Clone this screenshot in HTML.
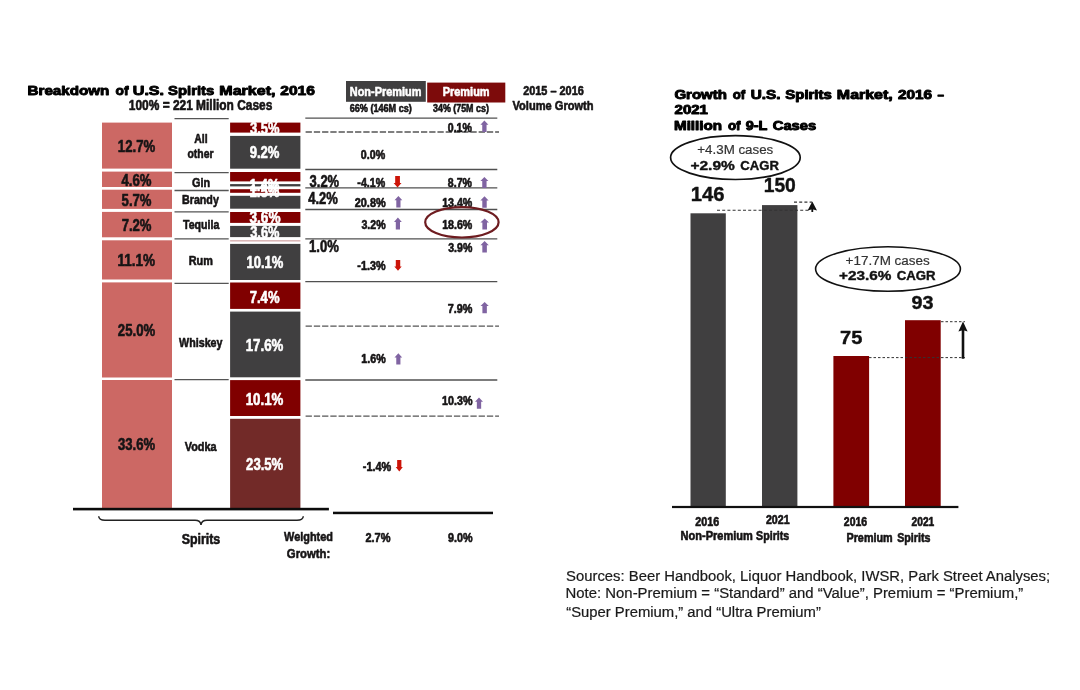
<!DOCTYPE html>
<html lang="en"><head><meta charset="utf-8"><title>U.S. Spirits Market</title>
<style>
html,body{margin:0;padding:0;background:#fff;}
body{width:1080px;height:690px;overflow:hidden;}
svg{display:block;filter:blur(0.45px);}
text{font-family:"Liberation Sans",Arial,Helvetica,sans-serif;white-space:pre;}
</style></head><body>
<svg width="1080" height="690" viewBox="0 0 1080 690">
<rect width="1080" height="690" fill="#fff"/>
<text y="94.85" font-size="12.52" font-weight="bold" fill="#000" stroke="#000" stroke-width="0.9" stroke-linejoin="round"><tspan x="27.54" textLength="81.82" lengthAdjust="spacingAndGlyphs">Breakdown</tspan> <tspan x="115.5" textLength="12.96" lengthAdjust="spacingAndGlyphs">of</tspan> <tspan x="132.79" textLength="31.26" lengthAdjust="spacingAndGlyphs">U.S.</tspan> <tspan x="168.11" textLength="46.11" lengthAdjust="spacingAndGlyphs">Spirits</tspan> <tspan x="219.38" textLength="56.06" lengthAdjust="spacingAndGlyphs">Market,</tspan> <tspan x="280.23" textLength="34.66" lengthAdjust="spacingAndGlyphs">2016</tspan></text>
<text x="128.85" y="110.0" font-size="13.81" font-weight="bold" fill="#161415" textLength="143.44" lengthAdjust="spacingAndGlyphs" stroke="#161415" stroke-width="0.6" stroke-linejoin="round">100% = 221 Million Cases</text>
<rect x="102" y="122.6" width="70" height="46.0" fill="#cc6864"/>
<rect x="102" y="171.6" width="70" height="15.4" fill="#cc6864"/>
<rect x="102" y="189.7" width="70" height="19.2" fill="#cc6864"/>
<rect x="102" y="211.9" width="70" height="25.4" fill="#cc6864"/>
<rect x="102" y="240.3" width="70" height="39.2" fill="#cc6864"/>
<rect x="102" y="282.4" width="70" height="95.1" fill="#cc6864"/>
<rect x="102" y="380" width="70" height="128" fill="#cc6864"/>
<rect x="230.1" y="122.6" width="70.3" height="10.0" fill="#800000"/>
<rect x="230.1" y="135.9" width="70.3" height="32.8" fill="#403f40"/>
<rect x="230.1" y="172" width="70.3" height="9.4" fill="#800000"/>
<rect x="230.1" y="184.1" width="70.3" height="2.3" fill="#403f40"/>
<rect x="230.1" y="189.2" width="70.3" height="3.6" fill="#800000"/>
<rect x="230.1" y="195.8" width="70.3" height="12.9" fill="#403f40"/>
<rect x="230.1" y="212" width="70.3" height="10.9" fill="#800000"/>
<rect x="230.1" y="225.9" width="70.3" height="11.2" fill="#403f40"/>
<rect x="230.1" y="240.5" width="70.3" height="0.8" fill="#b87070"/>
<rect x="230.1" y="243.9" width="70.3" height="36.1" fill="#403f40"/>
<rect x="230.1" y="282.5" width="70.3" height="26.4" fill="#800000"/>
<rect x="230.1" y="311.6" width="70.3" height="65.7" fill="#403f40"/>
<rect x="230.1" y="380.1" width="70.3" height="35.9" fill="#800000"/>
<rect x="230.1" y="418.8" width="70.3" height="89.2" fill="#722a28"/>
<line x1="174.5" y1="118.7" x2="228.7" y2="118.7" stroke="#555" stroke-width="1.3"/>
<line x1="174.5" y1="172.7" x2="228.7" y2="172.7" stroke="#555" stroke-width="1.3"/>
<line x1="174.5" y1="190.5" x2="228.7" y2="190.5" stroke="#555" stroke-width="1.3"/>
<line x1="174.5" y1="211.9" x2="228.7" y2="211.9" stroke="#555" stroke-width="1.3"/>
<line x1="174.5" y1="238.8" x2="228.7" y2="238.8" stroke="#555" stroke-width="1.3"/>
<line x1="174.5" y1="283.4" x2="228.7" y2="283.4" stroke="#555" stroke-width="1.3"/>
<line x1="174.5" y1="379.6" x2="228.7" y2="379.6" stroke="#555" stroke-width="1.3"/>
<line x1="305.3" y1="118.1" x2="497.3" y2="118.1" stroke="#505050" stroke-width="1.3"/>
<line x1="305.3" y1="169.5" x2="497.3" y2="169.5" stroke="#505050" stroke-width="1.3"/>
<line x1="305.3" y1="187.9" x2="497.3" y2="187.9" stroke="#505050" stroke-width="1.3"/>
<line x1="305.3" y1="209.5" x2="497.3" y2="209.5" stroke="#505050" stroke-width="1.3"/>
<line x1="305.3" y1="238.8" x2="497.3" y2="238.8" stroke="#505050" stroke-width="1.3"/>
<line x1="305.3" y1="281.6" x2="497.3" y2="281.6" stroke="#505050" stroke-width="1.3"/>
<line x1="305.3" y1="380" x2="497.3" y2="380" stroke="#505050" stroke-width="1.3"/>
<line x1="305.6" y1="132" x2="499" y2="132" stroke="#555" stroke-width="1.4" stroke-dasharray="6.3 1.94"/>
<line x1="305.6" y1="326.1" x2="499" y2="326.1" stroke="#555" stroke-width="1.4" stroke-dasharray="6.3 1.94"/>
<line x1="305.6" y1="416.1" x2="499" y2="416.1" stroke="#555" stroke-width="1.4" stroke-dasharray="6.3 1.94"/>
<rect x="73" y="507.8" width="255.9" height="2.6" fill="#0c0c0c"/>
<rect x="333" y="511.7" width="160" height="2.5" fill="#0c0c0c"/>
<path d="M98.7 516.2 Q99 520.2 105 520.2 L195 520.2 Q200.5 520.2 201 524.8 Q201.5 520.2 207 520.2 L297 520.2 Q303 520.2 303.3 516.2" fill="none" stroke="#222" stroke-width="1.5"/>
<text x="117.87" y="151.7" font-size="15.68" font-weight="bold" fill="#161415" textLength="37.37" lengthAdjust="spacingAndGlyphs" stroke="#161415" stroke-width="0.6" stroke-linejoin="round">12.7%</text>
<text x="121.48" y="185.8" font-size="15.68" font-weight="bold" fill="#161415" textLength="30.06" lengthAdjust="spacingAndGlyphs" stroke="#161415" stroke-width="0.6" stroke-linejoin="round">4.6%</text>
<text x="121.61" y="205.6" font-size="15.68" font-weight="bold" fill="#161415" textLength="29.93" lengthAdjust="spacingAndGlyphs" stroke="#161415" stroke-width="0.6" stroke-linejoin="round">5.7%</text>
<text x="121.63" y="230.6" font-size="15.68" font-weight="bold" fill="#161415" textLength="29.91" lengthAdjust="spacingAndGlyphs" stroke="#161415" stroke-width="0.6" stroke-linejoin="round">7.2%</text>
<text x="117.44" y="265.7" font-size="15.68" font-weight="bold" fill="#161415" textLength="37.72" lengthAdjust="spacingAndGlyphs" stroke="#161415" stroke-width="0.6" stroke-linejoin="round">11.1%</text>
<text x="117.86" y="335.7" font-size="15.68" font-weight="bold" fill="#161415" textLength="37.27" lengthAdjust="spacingAndGlyphs" stroke="#161415" stroke-width="0.6" stroke-linejoin="round">25.0%</text>
<text x="118.0" y="450.4" font-size="15.68" font-weight="bold" fill="#161415" textLength="37.04" lengthAdjust="spacingAndGlyphs" stroke="#161415" stroke-width="0.6" stroke-linejoin="round">33.6%</text>
<text x="194.32" y="142.6" font-size="12.81" font-weight="bold" fill="#161415" textLength="13.32" lengthAdjust="spacingAndGlyphs" stroke="#161415" stroke-width="0.6" stroke-linejoin="round">All</text>
<text x="187.48" y="158.0" font-size="12.81" font-weight="bold" fill="#161415" textLength="26.09" lengthAdjust="spacingAndGlyphs" stroke="#161415" stroke-width="0.6" stroke-linejoin="round">other</text>
<text x="191.97" y="186.6" font-size="12.81" font-weight="bold" fill="#161415" textLength="18.08" lengthAdjust="spacingAndGlyphs" stroke="#161415" stroke-width="0.6" stroke-linejoin="round">Gin</text>
<text x="181.99" y="204.4" font-size="12.81" font-weight="bold" fill="#161415" textLength="36.87" lengthAdjust="spacingAndGlyphs" stroke="#161415" stroke-width="0.6" stroke-linejoin="round">Brandy</text>
<text x="182.99" y="228.7" font-size="12.81" font-weight="bold" fill="#161415" textLength="36.33" lengthAdjust="spacingAndGlyphs" stroke="#161415" stroke-width="0.6" stroke-linejoin="round">Tequila</text>
<text x="188.68" y="264.8" font-size="12.81" font-weight="bold" fill="#161415" textLength="24.1" lengthAdjust="spacingAndGlyphs" stroke="#161415" stroke-width="0.6" stroke-linejoin="round">Rum</text>
<text x="179.1" y="346.6" font-size="12.81" font-weight="bold" fill="#161415" textLength="43.38" lengthAdjust="spacingAndGlyphs" stroke="#161415" stroke-width="0.6" stroke-linejoin="round">Whiskey</text>
<text x="184.73" y="451.1" font-size="12.81" font-weight="bold" fill="#161415" textLength="31.9" lengthAdjust="spacingAndGlyphs" stroke="#161415" stroke-width="0.6" stroke-linejoin="round">Vodka</text>
<text x="250.0" y="133.9" font-size="15.68" font-weight="bold" fill="#fff" textLength="29.54" lengthAdjust="spacingAndGlyphs" stroke="#fff" stroke-width="0.6" stroke-linejoin="round">3.5%</text>
<text x="249.66" y="158.4" font-size="15.68" font-weight="bold" fill="#fff" textLength="29.88" lengthAdjust="spacingAndGlyphs" stroke="#fff" stroke-width="0.6" stroke-linejoin="round">9.2%</text>
<text x="249.46" y="190.9" font-size="15.68" font-weight="bold" fill="#fff" textLength="30.08" lengthAdjust="spacingAndGlyphs" stroke="#fff" stroke-width="0.6" stroke-linejoin="round">1.4%</text>
<text x="249.46" y="196.9" font-size="15.68" font-weight="bold" fill="#fff" textLength="30.08" lengthAdjust="spacingAndGlyphs" stroke="#fff" stroke-width="0.6" stroke-linejoin="round">1.5%</text>
<text x="249.48" y="222.7" font-size="15.68" font-weight="bold" fill="#fff" textLength="31.07" lengthAdjust="spacingAndGlyphs" stroke="#fff" stroke-width="0.6" stroke-linejoin="round">3.6%</text>
<text x="250.2" y="238.0" font-size="15.68" font-weight="bold" fill="#fff" textLength="29.33" lengthAdjust="spacingAndGlyphs" stroke="#fff" stroke-width="0.6" stroke-linejoin="round">3.6%</text>
<text x="246.48" y="268.3" font-size="15.68" font-weight="bold" fill="#fff" textLength="36.85" lengthAdjust="spacingAndGlyphs" stroke="#fff" stroke-width="0.6" stroke-linejoin="round">10.1%</text>
<text x="249.73" y="302.6" font-size="15.68" font-weight="bold" fill="#fff" textLength="29.81" lengthAdjust="spacingAndGlyphs" stroke="#fff" stroke-width="0.6" stroke-linejoin="round">7.4%</text>
<text x="245.71" y="351.3" font-size="15.68" font-weight="bold" fill="#fff" textLength="37.58" lengthAdjust="spacingAndGlyphs" stroke="#fff" stroke-width="0.6" stroke-linejoin="round">17.6%</text>
<text x="245.71" y="404.6" font-size="15.68" font-weight="bold" fill="#fff" textLength="37.58" lengthAdjust="spacingAndGlyphs" stroke="#fff" stroke-width="0.6" stroke-linejoin="round">10.1%</text>
<text x="246.11" y="469.6" font-size="15.68" font-weight="bold" fill="#fff" textLength="37.17" lengthAdjust="spacingAndGlyphs" stroke="#fff" stroke-width="0.6" stroke-linejoin="round">23.5%</text>
<rect x="346" y="81" width="79.8" height="20.8" fill="#403f40"/>
<rect x="427.2" y="82.6" width="78.1" height="19.9" fill="#7d0b0b"/>
<text x="349.77" y="95.6" font-size="12.95" font-weight="bold" fill="#fff" textLength="71.61" lengthAdjust="spacingAndGlyphs" stroke="#fff" stroke-width="0.6" stroke-linejoin="round">Non-Premium</text>
<text x="442.67" y="96.1" font-size="12.95" font-weight="bold" fill="#fff" textLength="46.92" lengthAdjust="spacingAndGlyphs" stroke="#fff" stroke-width="0.6" stroke-linejoin="round">Premium</text>
<text x="349.77" y="112.3" font-size="10.5" font-weight="bold" fill="#161415" textLength="61.99" lengthAdjust="spacingAndGlyphs" stroke="#161415" stroke-width="0.6" stroke-linejoin="round">66% (146M cs)</text>
<text x="432.99" y="112.3" font-size="10.5" font-weight="bold" fill="#161415" textLength="55.86" lengthAdjust="spacingAndGlyphs" stroke="#161415" stroke-width="0.6" stroke-linejoin="round">34% (75M cs)</text>
<text x="523.14" y="94.7" font-size="12.52" font-weight="bold" fill="#161415" textLength="60.67" lengthAdjust="spacingAndGlyphs" stroke="#161415" stroke-width="0.6" stroke-linejoin="round">2015 – 2016</text>
<text x="512.53" y="109.9" font-size="12.52" font-weight="bold" fill="#161415" textLength="81.06" lengthAdjust="spacingAndGlyphs" stroke="#161415" stroke-width="0.6" stroke-linejoin="round">Volume Growth</text>
<text x="309.6" y="186.5" font-size="15.68" font-weight="bold" fill="#161415" textLength="29.54" lengthAdjust="spacingAndGlyphs" stroke="#161415" stroke-width="0.6" stroke-linejoin="round">3.2%</text>
<text x="308.28" y="204.3" font-size="15.68" font-weight="bold" fill="#161415" textLength="29.65" lengthAdjust="spacingAndGlyphs" stroke="#161415" stroke-width="0.6" stroke-linejoin="round">4.2%</text>
<text x="308.97" y="252.3" font-size="15.68" font-weight="bold" fill="#161415" textLength="29.82" lengthAdjust="spacingAndGlyphs" stroke="#161415" stroke-width="0.6" stroke-linejoin="round">1.0%</text>
<text x="447.78" y="131.8" font-size="12.23" font-weight="bold" fill="#161415" textLength="24.1" lengthAdjust="spacingAndGlyphs" stroke="#161415" stroke-width="0.6" stroke-linejoin="round">0.1%</text>
<path d="M484.4 120.6 L488.4 124.818 L486.56 124.818 L486.56 132 L482.23999999999995 132 L482.23999999999995 124.818 L480.4 124.818 Z" fill="#8064a2"/>
<text x="360.87" y="159.2" font-size="12.23" font-weight="bold" fill="#161415" textLength="24.3" lengthAdjust="spacingAndGlyphs" stroke="#161415" stroke-width="0.6" stroke-linejoin="round">0.0%</text>
<text x="357.37" y="187.0" font-size="12.23" font-weight="bold" fill="#161415" textLength="27.8" lengthAdjust="spacingAndGlyphs" stroke="#161415" stroke-width="0.6" stroke-linejoin="round">-4.1%</text>
<path d="M397.55 187.6 L401.5 182.96 L399.92 182.96 L399.92 176 L395.18 176 L395.18 182.96 L393.6 182.96 Z" fill="#cc1408"/>
<text x="447.85" y="187.0" font-size="12.23" font-weight="bold" fill="#161415" textLength="24.02" lengthAdjust="spacingAndGlyphs" stroke="#161415" stroke-width="0.6" stroke-linejoin="round">8.7%</text>
<path d="M484.4 176.9 L488.4 180.97 L486.56 180.97 L486.56 187.9 L482.23999999999995 187.9 L482.23999999999995 180.97 L480.4 180.97 Z" fill="#8064a2"/>
<text x="354.74" y="207.4" font-size="12.23" font-weight="bold" fill="#161415" textLength="30.94" lengthAdjust="spacingAndGlyphs" stroke="#161415" stroke-width="0.6" stroke-linejoin="round">20.8%</text>
<path d="M398.4 196 L402.3 200.292 L400.506 200.292 L400.506 207.6 L396.294 207.6 L396.294 200.292 L394.5 200.292 Z" fill="#8064a2"/>
<text x="442.13" y="207.2" font-size="12.23" font-weight="bold" fill="#161415" textLength="30.14" lengthAdjust="spacingAndGlyphs" stroke="#161415" stroke-width="0.6" stroke-linejoin="round">13.4%</text>
<path d="M484.5 196.3 L488.6 200.518 L486.714 200.518 L486.714 207.7 L482.286 207.7 L482.286 200.518 L480.4 200.518 Z" fill="#8064a2"/>
<text x="361.45" y="229.1" font-size="12.23" font-weight="bold" fill="#161415" textLength="24.22" lengthAdjust="spacingAndGlyphs" stroke="#161415" stroke-width="0.6" stroke-linejoin="round">3.2%</text>
<path d="M397.9 217.6 L401.8 221.966 L400.006 221.966 L400.006 229.4 L395.794 229.4 L395.794 221.966 L394 221.966 Z" fill="#8064a2"/>
<text x="442.13" y="229.3" font-size="12.23" font-weight="bold" fill="#161415" textLength="30.14" lengthAdjust="spacingAndGlyphs" stroke="#161415" stroke-width="0.6" stroke-linejoin="round">18.6%</text>
<path d="M484.7 218.4 L489 222.544 L487.022 222.544 L487.022 229.6 L482.378 229.6 L482.378 222.544 L480.4 222.544 Z" fill="#8064a2"/>
<ellipse cx="461.9" cy="222.3" rx="36.7" ry="15.2" fill="none" stroke="#6e1c20" stroke-width="2.2"/>
<text x="448.25" y="252.1" font-size="12.23" font-weight="bold" fill="#161415" textLength="24.02" lengthAdjust="spacingAndGlyphs" stroke="#161415" stroke-width="0.6" stroke-linejoin="round">3.9%</text>
<path d="M484.6 241 L488.8 245.292 L486.86800000000005 245.292 L486.86800000000005 252.6 L482.332 252.6 L482.332 245.292 L480.4 245.292 Z" fill="#8064a2"/>
<text x="357.37" y="270.0" font-size="12.23" font-weight="bold" fill="#161415" textLength="28.11" lengthAdjust="spacingAndGlyphs" stroke="#161415" stroke-width="0.6" stroke-linejoin="round">-1.3%</text>
<path d="M398.0 270.8 L401.7 266.48 L400.21999999999997 266.48 L400.21999999999997 260 L395.78000000000003 260 L395.78000000000003 266.48 L394.3 266.48 Z" fill="#cc1408"/>
<text x="447.83" y="313.0" font-size="12.23" font-weight="bold" fill="#161415" textLength="24.65" lengthAdjust="spacingAndGlyphs" stroke="#161415" stroke-width="0.6" stroke-linejoin="round">7.9%</text>
<path d="M484.625 301.9 L488.75 306.118 L486.8525 306.118 L486.8525 313.3 L482.3975 313.3 L482.3975 306.118 L480.5 306.118 Z" fill="#8064a2"/>
<text x="361.37" y="363.0" font-size="12.23" font-weight="bold" fill="#161415" textLength="24.35" lengthAdjust="spacingAndGlyphs" stroke="#161415" stroke-width="0.6" stroke-linejoin="round">1.6%</text>
<path d="M398.35 353.25 L402.2 357.4125 L400.42900000000003 357.4125 L400.42900000000003 364.5 L396.271 364.5 L396.271 357.4125 L394.5 357.4125 Z" fill="#8064a2"/>
<text x="442.12" y="405.0" font-size="12.23" font-weight="bold" fill="#161415" textLength="30.35" lengthAdjust="spacingAndGlyphs" stroke="#161415" stroke-width="0.6" stroke-linejoin="round">10.3%</text>
<path d="M479.0 397.5 L483 401.6625 L481.16 401.6625 L481.16 408.75 L476.84 408.75 L476.84 401.6625 L475 401.6625 Z" fill="#8064a2"/>
<text x="362.87" y="471.2" font-size="12.23" font-weight="bold" fill="#161415" textLength="28.36" lengthAdjust="spacingAndGlyphs" stroke="#161415" stroke-width="0.6" stroke-linejoin="round">-1.4%</text>
<path d="M399.275 471.5 L402.8 466.9 L401.39 466.9 L401.39 460 L397.15999999999997 460 L397.15999999999997 466.9 L395.75 466.9 Z" fill="#cc1408"/>
<text x="181.63" y="544.0" font-size="14.1" font-weight="bold" fill="#161415" textLength="38.55" lengthAdjust="spacingAndGlyphs" stroke="#161415" stroke-width="0.6" stroke-linejoin="round">Spirits</text>
<text x="284.05" y="540.8" font-size="13.67" font-weight="bold" fill="#161415" textLength="48.89" lengthAdjust="spacingAndGlyphs" stroke="#161415" stroke-width="0.6" stroke-linejoin="round">Weighted</text>
<text x="286.85" y="557.9" font-size="13.53" font-weight="bold" fill="#161415" textLength="43.44" lengthAdjust="spacingAndGlyphs" stroke="#161415" stroke-width="0.6" stroke-linejoin="round">Growth:</text>
<text x="365.43" y="542.0" font-size="12.81" font-weight="bold" fill="#161415" textLength="25.05" lengthAdjust="spacingAndGlyphs" stroke="#161415" stroke-width="0.6" stroke-linejoin="round">2.7%</text>
<text x="447.94" y="542.0" font-size="12.81" font-weight="bold" fill="#161415" textLength="24.54" lengthAdjust="spacingAndGlyphs" stroke="#161415" stroke-width="0.6" stroke-linejoin="round">9.0%</text>
<text y="98.55" font-size="11.94" font-weight="bold" fill="#000" stroke="#000" stroke-width="0.9" stroke-linejoin="round"><tspan x="674.45" textLength="52.49" lengthAdjust="spacingAndGlyphs">Growth</tspan> <tspan x="732.82" textLength="12.43" lengthAdjust="spacingAndGlyphs">of</tspan> <tspan x="750.74" textLength="29.65" lengthAdjust="spacingAndGlyphs">U.S.</tspan> <tspan x="785.3" textLength="46.52" lengthAdjust="spacingAndGlyphs">Spirits</tspan> <tspan x="836.89" textLength="55.75" lengthAdjust="spacingAndGlyphs">Market,</tspan> <tspan x="897.94" textLength="34.14" lengthAdjust="spacingAndGlyphs">2016</tspan> <tspan x="937.6" textLength="6.49" lengthAdjust="spacingAndGlyphs">–</tspan></text>
<text x="674.55" y="114.35" font-size="11.94" font-weight="bold" fill="#000" textLength="33.42" lengthAdjust="spacingAndGlyphs" stroke="#000" stroke-width="0.9" stroke-linejoin="round">2021</text>
<text y="130.25" font-size="11.94" font-weight="bold" fill="#000" stroke="#000" stroke-width="0.9" stroke-linejoin="round"><tspan x="674.04" textLength="48.01" lengthAdjust="spacingAndGlyphs">Million</tspan> <tspan x="727.92" textLength="12.54" lengthAdjust="spacingAndGlyphs">of</tspan> <tspan x="745.67" textLength="21.51" lengthAdjust="spacingAndGlyphs">9-L</tspan> <tspan x="772.76" textLength="43.48" lengthAdjust="spacingAndGlyphs">Cases</tspan></text>
<ellipse cx="735.4" cy="157.6" rx="64.8" ry="21.9" fill="#fff" stroke="#111" stroke-width="1.7"/>
<text x="697.33" y="153.6" font-size="13.09" font-weight="normal" fill="#333" textLength="75.96" lengthAdjust="spacingAndGlyphs" stroke="#333" stroke-width="0.2" stroke-linejoin="round">+4.3M cases</text>
<text y="169.8" font-size="13.09" font-weight="bold" fill="#111" stroke="#111" stroke-width="0.4" stroke-linejoin="round"><tspan x="690.43" textLength="44.38" lengthAdjust="spacingAndGlyphs">+2.9%</tspan> <tspan x="740.28" textLength="38.6" lengthAdjust="spacingAndGlyphs">CAGR</tspan></text>
<rect x="690.5" y="213.3" width="35.3" height="294.7" fill="#403f40"/>
<rect x="762" y="205.1" width="35.4" height="302.9" fill="#403f40"/>
<rect x="833.4" y="356" width="35.7" height="152" fill="#800000"/>
<rect x="905" y="320.2" width="35.7" height="187.8" fill="#800000"/>
<text x="690.82" y="201.4" font-size="19.57" font-weight="bold" fill="#111" textLength="33.79" lengthAdjust="spacingAndGlyphs" stroke="#111" stroke-width="0.4" stroke-linejoin="round">146</text>
<text x="763.68" y="192.3" font-size="19.57" font-weight="bold" fill="#111" textLength="32.16" lengthAdjust="spacingAndGlyphs" stroke="#111" stroke-width="0.4" stroke-linejoin="round">150</text>
<text x="840.03" y="343.8" font-size="18.85" font-weight="bold" fill="#111" textLength="22.35" lengthAdjust="spacingAndGlyphs" stroke="#111" stroke-width="0.4" stroke-linejoin="round">75</text>
<text x="911.54" y="308.5" font-size="18.85" font-weight="bold" fill="#111" textLength="21.96" lengthAdjust="spacingAndGlyphs" stroke="#111" stroke-width="0.4" stroke-linejoin="round">93</text>
<line x1="717" y1="210.3" x2="809" y2="210.3" stroke="#333" stroke-width="1.1" stroke-dasharray="3 2.2"/>
<line x1="794" y1="202.1" x2="812" y2="202.1" stroke="#333" stroke-width="1.1" stroke-dasharray="3 2.2"/>
<path d="M812.3 201.6 L817 210.6 L813.2 209.6 L813.2 212 L811.4 212 L811.4 209.6 L807.6 210.6 Z" fill="#111"/>
<ellipse cx="888" cy="269" rx="72.4" ry="22.2" fill="#fff" stroke="#111" stroke-width="1.6"/>
<text x="845.63" y="264.8" font-size="13.09" font-weight="normal" fill="#333" textLength="84.07" lengthAdjust="spacingAndGlyphs" stroke="#333" stroke-width="0.2" stroke-linejoin="round">+17.7M cases</text>
<text y="280.4" font-size="13.09" font-weight="bold" fill="#111" stroke="#111" stroke-width="0.4" stroke-linejoin="round"><tspan x="839.14" textLength="52.36" lengthAdjust="spacingAndGlyphs">+23.6%</tspan> <tspan x="896.77" textLength="38.91" lengthAdjust="spacingAndGlyphs">CAGR</tspan></text>
<line x1="941" y1="321.7" x2="965" y2="321.7" stroke="#333" stroke-width="1" stroke-dasharray="2.5 2"/>
<line x1="869" y1="357.6" x2="965" y2="357.6" stroke="#333" stroke-width="1" stroke-dasharray="2.5 2"/>
<path d="M963 321.5 L967.6 331.5 L964.3 330.5 L964.3 358.7 L961.7 358.7 L961.7 330.5 L958.4 331.5 Z" fill="#111"/>
<rect x="672" y="505.9" width="286.4" height="2.2" fill="#111"/>
<text x="695.34" y="526.4" font-size="12.09" font-weight="bold" fill="#161415" textLength="23.83" lengthAdjust="spacingAndGlyphs" stroke="#161415" stroke-width="0.6" stroke-linejoin="round">2016</text>
<text x="765.94" y="524.1" font-size="12.09" font-weight="bold" fill="#161415" textLength="23.75" lengthAdjust="spacingAndGlyphs" stroke="#161415" stroke-width="0.6" stroke-linejoin="round">2021</text>
<text y="539.7" font-size="12.09" font-weight="bold" fill="#161415" stroke="#161415" stroke-width="0.6" stroke-linejoin="round"><tspan x="680.57" textLength="72.23" lengthAdjust="spacingAndGlyphs">Non-Premium</tspan> <tspan x="756.08" textLength="33.13" lengthAdjust="spacingAndGlyphs">Spirits</tspan></text>
<text x="843.85" y="525.6" font-size="12.09" font-weight="bold" fill="#161415" textLength="23.31" lengthAdjust="spacingAndGlyphs" stroke="#161415" stroke-width="0.6" stroke-linejoin="round">2016</text>
<text x="911.56" y="525.6" font-size="12.09" font-weight="bold" fill="#161415" textLength="22.73" lengthAdjust="spacingAndGlyphs" stroke="#161415" stroke-width="0.6" stroke-linejoin="round">2021</text>
<text y="541.5" font-size="12.09" font-weight="bold" fill="#161415" stroke="#161415" stroke-width="0.6" stroke-linejoin="round"><tspan x="846.48" textLength="46.2" lengthAdjust="spacingAndGlyphs">Premium</tspan> <tspan x="897.18" textLength="33.23" lengthAdjust="spacingAndGlyphs">Spirits</tspan></text>
<text x="566.11" y="581.3" font-size="14.24" font-weight="normal" fill="#1a1a1a" textLength="484.04" lengthAdjust="spacingAndGlyphs" stroke="#1a1a1a" stroke-width="0.2" stroke-linejoin="round">Sources: Beer Handbook, Liquor Handbook, IWSR, Park Street Analyses;</text>
<text x="565.56" y="598.4" font-size="14.24" font-weight="normal" fill="#1a1a1a" textLength="457.7" lengthAdjust="spacingAndGlyphs" stroke="#1a1a1a" stroke-width="0.2" stroke-linejoin="round">Note: Non-Premium = “Standard” and “Value”, Premium = “Premium,”</text>
<text x="566.26" y="616.7" font-size="14.24" font-weight="normal" fill="#1a1a1a" textLength="254.59" lengthAdjust="spacingAndGlyphs" stroke="#1a1a1a" stroke-width="0.2" stroke-linejoin="round">“Super Premium,” and “Ultra Premium”</text>
</svg>
</body></html>
